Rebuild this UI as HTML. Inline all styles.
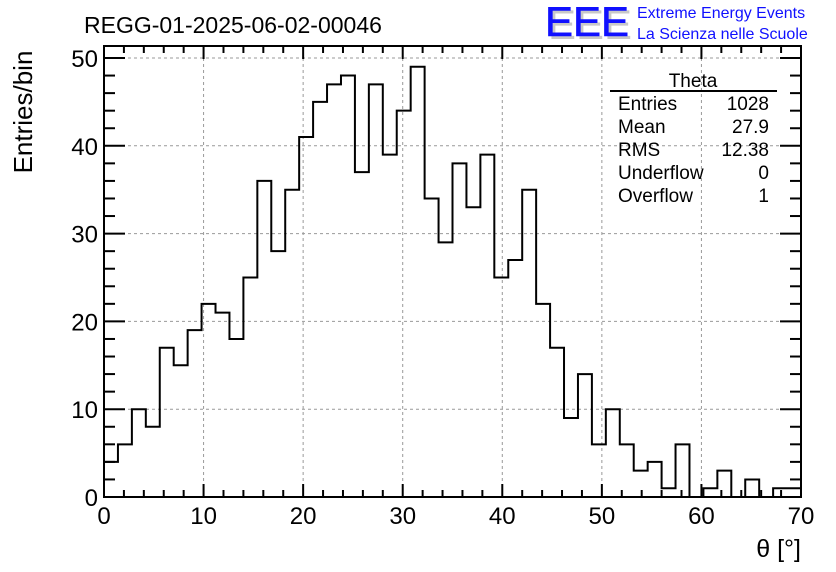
<!DOCTYPE html>
<html><head><meta charset="utf-8"><style>
html,body{margin:0;padding:0;background:#fff;}
svg{display:block;font-family:"Liberation Sans",Arial,sans-serif;}
</style></head><body>
<svg id="chart" width="836" height="572" viewBox="0 0 836 572">
<rect x="0" y="0" width="836" height="572" fill="#fff"/>
<text x="84" y="33" font-size="23" fill="#000">REGG-01-2025-06-02-00046</text>
<g>
<text x="548" y="39" font-size="42" fill="#c8c8c8" textLength="84" lengthAdjust="spacingAndGlyphs">EEE</text>
<text x="545" y="36" font-size="42" fill="#1010ff" stroke="#1010ff" stroke-width="0.6" textLength="84" lengthAdjust="spacingAndGlyphs">EEE</text>
<text x="637" y="18" font-size="16" fill="#1010ff">Extreme Energy Events</text>
<text x="637" y="39" font-size="16" fill="#1010ff">La Scienza nelle Scuole</text>
</g>
<g id="grid"></g>
<g id="ticks"></g>
<path id="hist" fill="none" stroke="#000" stroke-width="2"/>
<rect x="104" y="46" width="697" height="451" fill="none" stroke="#000" stroke-width="2"/>
<g id="xlabels" font-size="24" text-anchor="middle"></g>
<g id="ylabels" font-size="24" text-anchor="end"></g>
<text x="801" y="557" font-size="25" text-anchor="end">θ [°]</text>
<text transform="translate(32,112) rotate(-90)" font-size="26" text-anchor="middle">Entries/bin</text>
<g font-size="19">
<text x="693" y="87" text-anchor="middle">Theta</text>
<line x1="610" y1="91" x2="777" y2="91" stroke="#000" stroke-width="2"/>
<text x="618" y="110">Entries</text><text x="769" y="110" text-anchor="end">1028</text>
<text x="618" y="133">Mean</text><text x="769" y="133" text-anchor="end">27.9</text>
<text x="618" y="156">RMS</text><text x="769" y="156" text-anchor="end">12.38</text>
<text x="618" y="179">Underflow</text><text x="769" y="179" text-anchor="end">0</text>
<text x="618" y="202">Overflow</text><text x="769" y="202" text-anchor="end">1</text>
</g>
</svg>
<script>
const binCounts = [4,6,10,8,17,15,19,22,21,18,25,36,28,35,41,45,47,48,37,47,39,44,49,34,29,38,33,39,25,27,35,22,17,9,14,6,10,6,3,4,1,6,0,1,3,0,2,0,1,1];
const xRange = [0, 70];
const yRange = [0, 51.4];
const xTickLabels = [0,10,20,30,40,50,60,70];
const yTickLabels = [0,10,20,30,40,50];

const L=104,R=801,B=497,T=46;
const yTop50=58;
function xs(v){return L+(v-xRange[0])/(xRange[1]-xRange[0])*(R-L);}
function ys(v){return B-v*(B-yTop50)/50;}
const NS="http://www.w3.org/2000/svg";
function mk(tag,attrs,parent){const e=document.createElementNS(NS,tag);for(const k in attrs)e.setAttribute(k,attrs[k]);parent.appendChild(e);return e;}

const grid=document.getElementById('grid');
xTickLabels.forEach(v=>{if(v>xRange[0]&&v<xRange[1]){const l=mk('line',{x1:xs(v),x2:xs(v),y1:T,y2:B,stroke:'#999','stroke-dasharray':'3,3','stroke-width':1},grid);

}});
yTickLabels.forEach(v=>{if(v>0){const l=mk('line',{x1:L,x2:R,y1:ys(v),y2:ys(v),stroke:'#999','stroke-dasharray':'3,3','stroke-width':1},grid);

}});

const ticks=document.getElementById('ticks');
for(let v=0;v<=70;v+=2){const maj=v%10===0;const len=maj?13:7;const x=xs(v);
mk('line',{x1:x,x2:x,y1:B,y2:B-len,stroke:'#000','stroke-width':2},ticks);
mk('line',{x1:x,x2:x,y1:T,y2:T+len,stroke:'#000','stroke-width':2},ticks);}
for(let v=0;v<=50;v+=2){const maj=v%10===0;const len=maj?21:11;const y=ys(v);
mk('line',{x1:L,x2:L+len,y1:y,y2:y,stroke:'#000','stroke-width':2},ticks);
mk('line',{x1:R,x2:R-len,y1:y,y2:y,stroke:'#000','stroke-width':2},ticks);}

const xl=document.getElementById('xlabels');
xTickLabels.forEach(v=>{const t=mk('text',{x:xs(v),y:524},xl);t.textContent=v;

});
const yl=document.getElementById('ylabels');
yTickLabels.forEach(v=>{const t=mk('text',{x:98,y:ys(v)+9},yl);t.textContent=v;

});

const bw=(xRange[1]-xRange[0])/binCounts.length;
let d='M'+xs(0)+','+ys(0);
binCounts.forEach((c,i)=>{d+=' L'+xs(i*bw)+','+ys(c)+' L'+xs((i+1)*bw)+','+ys(c);});
d+=' L'+xs(xRange[1])+','+ys(0);
document.getElementById('hist').setAttribute('d',d);
</script>
</body></html>
